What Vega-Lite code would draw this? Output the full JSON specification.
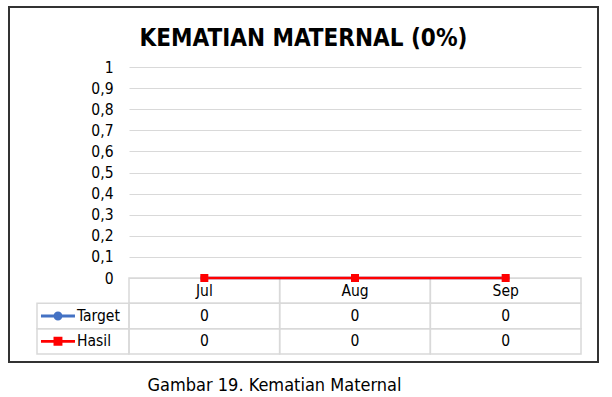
{
  "$schema": "https://vega.github.io/schema/vega-lite/v6.json",
  "width": 589,
  "height": 355,
  "autosize": "none",
  "padding": {"left": 9, "top": 7, "right": 14, "bottom": 35},
  "background": "white",
  "title": {"text": "KEMATIAN MATERNAL (0%)", "fontSize": 24, "fontWeight": "bold", "anchor": "middle", "offset": -44, "color": "#000000"},
  "datasets": {
    "main": [
      {"month": "Jul", "series": "Target", "value": 0},
      {"month": "Aug", "series": "Target", "value": 0},
      {"month": "Sep", "series": "Target", "value": 0},
      {"month": "Jul", "series": "Hasil", "value": 0},
      {"month": "Aug", "series": "Hasil", "value": 0},
      {"month": "Sep", "series": "Hasil", "value": 0}
    ]
  },
  "data": {"name": "main"},
  "layer": [
    {
      "transform": [{"filter": "datum.month === 'Jul'"}],
      "encoding": {
        "y": {"field": "series", "type": "nominal",
          "scale": {"type": "band", "domain": ["Bulan", "Target", "Hasil"], "range": [271, 347], "paddingInner": 0, "paddingOuter": 0},
          "axis": null}
      },
      "layer": [
        {"mark": {"type": "rect", "fillOpacity": 0, "stroke": "#d9d9d9", "strokeWidth": 1.5},
         "encoding": {"x": {"datum": "Seri", "type": "nominal",
           "scale": {"type": "band", "domain": ["Seri"], "range": [28, 120], "paddingInner": 0, "paddingOuter": 0},
           "axis": null}}},
        {"mark": {"type": "point", "filled": true, "size": 1156, "strokeWidth": 2.8, "opacity": 1},
         "encoding": {
           "x": {"datum": "Seri", "type": "nominal", "bandPosition": 0.228},
           "shape": {"field": "series", "type": "nominal",
             "scale": {"domain": ["Target", "Hasil"], "range": ["M-1,0H1M-0.18,0A0.18,0.18 0 1,1 0.18,0A0.18,0.18 0 1,1 -0.18,0Z", "M-1,0H1M-0.18,-0.18H0.18V0.18H-0.18Z"]},
             "legend": null},
           "fill": {"field": "series", "type": "nominal",
             "scale": {"domain": ["Target", "Hasil"], "range": ["#4472C4", "#FF0000"]}, "legend": null},
           "stroke": {"field": "series", "type": "nominal",
             "scale": {"domain": ["Target", "Hasil"], "range": ["#4472C4", "#FF0000"]}, "legend": null}}},
        {"mark": {"type": "text", "fontSize": 15.5, "align": "left", "color": "#000000"},
         "encoding": {
           "x": {"datum": "Seri", "type": "nominal", "bandPosition": 0.435},
           "text": {"field": "series", "type": "nominal"}}}
      ]
    },
    {
      "encoding": {
        "x": {"field": "month", "type": "nominal",
          "scale": {"type": "band", "domain": ["Jul", "Aug", "Sep"], "range": [120, 572], "paddingInner": 0, "paddingOuter": 0},
          "axis": null}
      },
      "layer": [
        {"mark": {"type": "rect", "fillOpacity": 0, "stroke": "#d9d9d9", "strokeWidth": 1.5},
         "encoding": {"y": {"field": "series", "type": "nominal",
           "scale": {"type": "band", "domain": ["Bulan", "Target", "Hasil"], "range": [271, 347], "paddingInner": 0, "paddingOuter": 0},
           "axis": null}}},
        {"transform": [{"filter": "datum.series === 'Target'"}],
         "mark": {"type": "rect", "fillOpacity": 0, "stroke": "#d9d9d9", "strokeWidth": 1.5},
         "encoding": {"y": {"datum": "Bulan", "type": "nominal"}}},
        {"mark": {"type": "text", "fontSize": 15.5, "color": "#000000"},
         "encoding": {"y": {"field": "series", "type": "nominal"}, "text": {"field": "value", "type": "quantitative"}}},
        {"transform": [{"filter": "datum.series === 'Target'"}],
         "mark": {"type": "text", "fontSize": 15.5, "color": "#000000"},
         "encoding": {"y": {"datum": "Bulan", "type": "nominal"}, "text": {"field": "month", "type": "nominal"}}}
      ]
    },
    {
      "encoding": {
        "x": {"field": "month", "type": "ordinal",
          "scale": {"type": "point", "domain": ["Jul", "Aug", "Sep"], "range": [120, 572], "padding": 0.5},
          "axis": {"orient": "bottom", "labels": false, "ticks": false, "domain": false, "grid": false,
            "title": "Gambar 19. Kematian Maternal", "titleFontSize": 18, "titleFontWeight": "normal", "titleColor": "#000000",
            "titleX": 265, "titleY": 28, "titleAlign": "center", "titleBaseline": "alphabetic"}},
        "y": {"field": "value", "type": "quantitative",
          "scale": {"domain": [0, 1], "range": [271, 60], "nice": false, "zero": true},
          "axis": {"orient": "left", "grid": true, "values": [0, 0.1, 0.2, 0.3, 0.4, 0.5, 0.6, 0.7, 0.8, 0.9, 1], "format": "~g", "title": null,
            "offset": -120, "domain": false, "ticks": false, "tickSize": 0, "labelPadding": 16,
            "labelFontSize": 15.5, "labelColor": "#000000", "gridColor": "#d9d9d9", "gridWidth": 1}},
        "color": {"field": "series", "type": "nominal",
          "scale": {"domain": ["Target", "Hasil"], "range": ["#4472C4", "#FF0000"]},
          "legend": null}
      },
      "layer": [
        {"mark": {"type": "line", "strokeWidth": 2.5}},
        {"mark": {"type": "point", "filled": true, "size": 64, "opacity": 1},
         "encoding": {"shape": {"field": "series", "type": "nominal",
           "scale": {"domain": ["Target", "Hasil"], "range": ["circle", "square"]}, "legend": null}}}
      ]
    }
  ],
  "resolve": {"scale": {"x": "independent", "y": "independent", "shape": "independent"}},
  "config": {
    "font": "DejaVu Sans Condensed, DejaVu Sans",
    "view": {"stroke": "#333333", "strokeWidth": 2, "fill": "white"},
    "locale": {"number": {"decimal": ",", "thousands": ".", "grouping": [3], "currency": ["Rp", ""]}}
  }
}
